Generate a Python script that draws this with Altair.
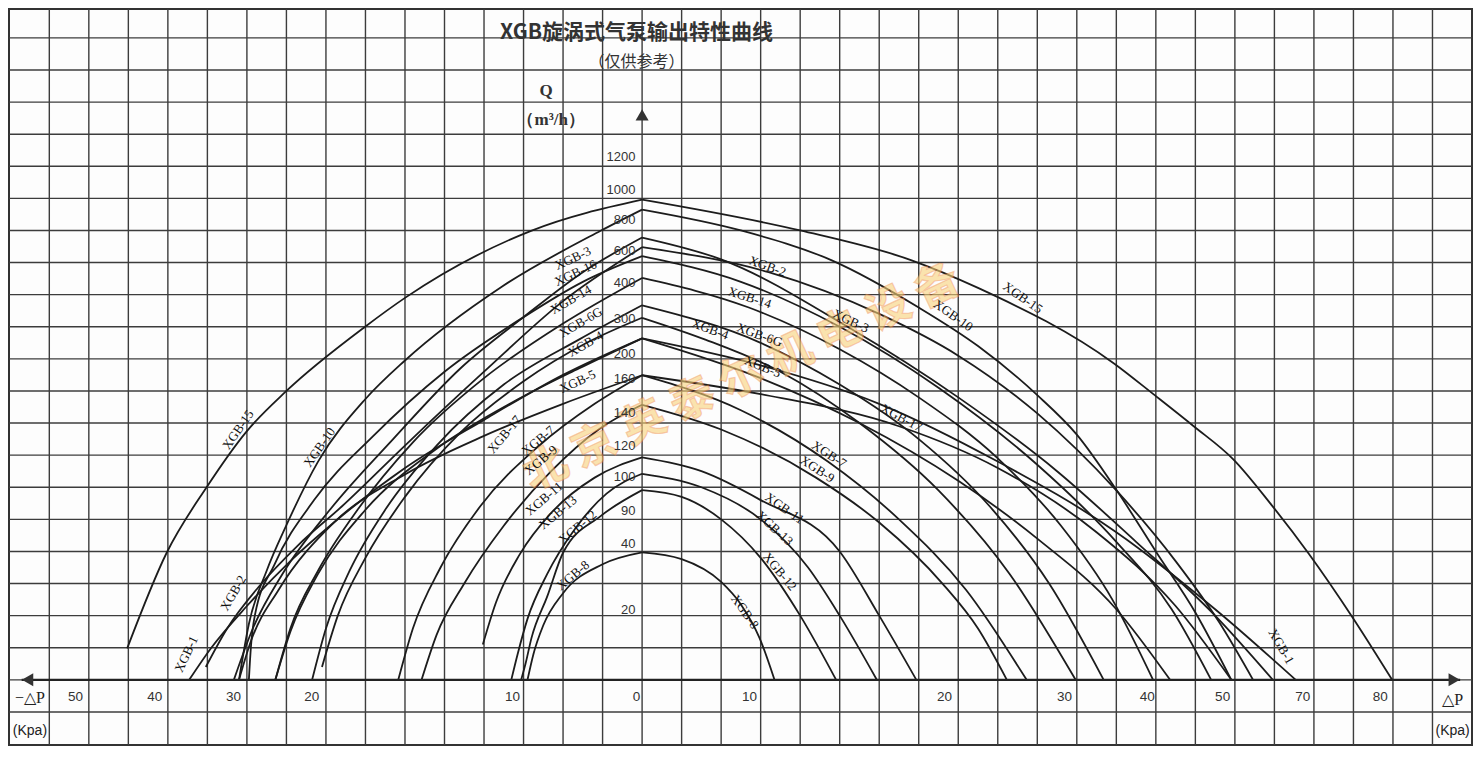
import altair as alt
import pandas as pd

# Coordinates are in grid cells:
# x = columns from the Q axis (left negative), y = rows above the ΔP axis.

XGB_15_L = [(-13.03, 0.98), (-12.03, 3.96), (-11.02, 6.0), (-10.0, 7.75), (-9.0, 9.0), (-7.0, 11.01), (-6.0, 11.9), (-2.81, 13.99), (0, 14.96)]
XGB_15_R = [(0, 14.96), (4, 14.0), (6.82, 13.07), (8.5, 12.21), (11.95, 9.85), (12.97, 8.87), (13.95, 7.91), (14.96, 6.87), (15.92, 5.46), (16.87, 3.93), (17.97, 1.96), (18.98, 0)]
XGB_10_L = [(-10.2, 0), (-9.95, 1.74), (-9.5, 3.4), (-9.0, 4.82), (-8.2, 6.8), (-7.0, 8.75), (-6.0, 9.95), (-3.56, 12.24), (-1.05, 13.99), (0, 14.65)]
XGB_10_R = [(0, 14.65), (2.5, 14.0), (4.8, 13.07), (7.0, 11.6), (8.5, 10.4), (10, 8.87), (11, 7.64), (12, 5.92), (13, 4.0), (14, 2.1), (14.91, 0)]
XGB_3_L = [(-10.33, 0), (-9.85, 1.6), (-9.1, 3.3), (-7.9, 5.3), (-6.3, 7.5), (-4.6, 9.7), (-3, 11.3), (-1.5, 12.7), (0, 13.78)]
XGB_3_R = [(0, 13.78), (2, 13.1), (5.2, 11.0), (8, 8.8), (10.5, 6.5), (12.5, 4.3), (14.5, 2.0), (15.96, 0)]
XGB_2_L = [(-11.04, 0.4), (-10.5, 1.6), (-9.7, 2.9), (-8.7, 4.2), (-7.6, 5.4), (-6, 7.3), (-4, 9.6), (-2, 11.8), (0, 13.48)]
XGB_2_R = [(0, 13.48), (3.2, 12.7), (6, 11.4), (8, 10.1), (10, 8.3), (12, 5.9), (13.5, 3.7), (14.6, 1.8), (15.46, 0)]
XGB_16_L = [(-9.95, 0), (-9.9, 1.0), (-9.8, 2.0), (-9.3, 3.6), (-8.3, 5.6), (-6.8, 7.6), (-5, 9.6), (-3, 11.3), (-1.5, 12.4), (0, 13.2)]
XGB_16_R = [(0, 13.2), (2.5, 12.4), (5, 11.0), (7.5, 9.1), (10, 6.7), (12, 4.3), (13.4, 2.2), (14.4, 0)]
XGB_14_L = [(-9.28, 0), (-8.9, 1.6), (-8.2, 3.4), (-7.2, 5.3), (-5.8, 7.4), (-4, 9.4), (-2, 11.1), (0, 12.52)]
XGB_14_R = [(0, 12.52), (2.7, 11.6), (5, 10.3), (7, 8.8), (9, 6.9), (10.6, 4.8), (11.9, 2.5), (12.93, 0)]
XGB_17_L = [(-10.2, 0), (-9.9, 1.2), (-9.2, 2.8), (-7.8, 4.9), (-6, 6.4), (-4, 7.6), (-2, 8.6), (0, 9.49)]
XGB_17_R = [(0, 9.49), (3, 8.9), (6.5, 7.9), (9, 6.6), (11.5, 4.6), (13.5, 2.3), (14.91, 0)]
XGB_6G_L = [(-8.35, 0), (-8.0, 1.6), (-7.4, 3.4), (-6.5, 5.3), (-5.2, 7.3), (-3.5, 9.2), (-1.6, 10.6), (0, 11.67)]
XGB_6G_R = [(0, 11.67), (3, 10.5), (5, 9.2), (7, 7.5), (8.8, 5.4), (10.3, 3.0), (11.68, 0)]
XGB_4_L = [(-8.1, 0.4), (-7.7, 2.0), (-7.0, 3.8), (-6.0, 5.7), (-4.6, 7.7), (-3, 9.3), (-1.4, 10.5), (0, 11.28)]
XGB_4_R = [(0, 11.28), (1.6, 10.6), (3.5, 9.6), (5.5, 8.0), (7.5, 5.9), (9.3, 3.3), (10.97, 0)]
XGB_5_L = [(-9.28, 0), (-8.9, 1.5), (-8.2, 3.3), (-7.0, 5.3), (-5.2, 7.2), (-3.2, 8.7), (-1.6, 9.7), (0, 10.64)]
XGB_5_R = [(0, 10.64), (3, 9.4), (5.5, 8.0), (8, 6.2), (10, 4.4), (12, 2.2), (13.36, 0)]
XGB_1_L = [(-11.46, 0), (-10.9, 1.0), (-10.0, 2.3), (-8.9, 3.7), (-7.8, 4.9), (-6, 6.6), (-4, 8.1), (-2, 9.5), (0, 10.64)]
XGB_1_R = [(0, 10.64), (3, 9.8), (6, 8.6), (9, 6.8), (12, 4.6), (14.5, 2.2), (16.54, 0)]
XGB_7_L = [(-6.17, 0), (-5.8, 1.6), (-5.1, 3.5), (-4.1, 5.4), (-2.6, 7.3), (-1.2, 8.6), (0, 9.49)]
XGB_7_R = [(0, 9.49), (2.5, 8.4), (4.7, 6.8), (6.5, 5.0), (8.2, 2.8), (9.73, 0)]
XGB_9_L = [(-5.58, 0), (-5.2, 1.4), (-4.5, 3.0), (-3.5, 4.8), (-2.3, 6.5), (-1.1, 7.8), (0, 8.57)]
XGB_9_R = [(0, 8.57), (2, 7.8), (4.4, 6.3), (6, 4.9), (7.6, 3.0), (8.5, 1.6), (9.23, 0)]
XGB_11_L = [(-4.03, 1.1), (-3.7, 2.4), (-3.1, 3.9), (-2.3, 5.2), (-1.2, 6.3), (0, 6.93)]
XGB_11_R = [(0, 6.93), (1.5, 6.5), (3, 5.6), (5, 4.0), (6, 2.0), (6.94, 0)]
XGB_13_L = [(-3.31, 0), (-3.15, 0.8), (-2.9, 1.9), (-2.4, 3.3), (-1.7, 4.7), (-0.9, 5.8), (0, 6.42)]
XGB_13_R = [(0, 6.42), (1.5, 6.0), (3, 5.0), (4.2, 3.5), (5, 2.0), (5.94, 0)]
XGB_12_L = [(-3.06, 0), (-2.95, 0.5), (-2.8, 1.3), (-2.4, 2.6), (-2.0, 3.96), (-1.05, 5.1), (0, 5.91)]
XGB_12_R = [(0, 5.91), (1, 5.7), (2, 5.0), (3, 3.8), (4, 2.0), (4.91, 0)]
XGB_8_L = [(-2.9, 0), (-2.75, 0.8), (-2.5, 1.7), (-2.0, 2.7), (-1, 3.6), (0, 3.97)]
XGB_8_R = [(0, 3.97), (1, 3.76), (2, 3.05), (2.5, 2.35), (2.97, 1.31), (3.35, 0)]

CURVES = [
    ("XGB-15", XGB_15_L, XGB_15_R), ("XGB-10", XGB_10_L, XGB_10_R),
    ("XGB-3", XGB_3_L, XGB_3_R), ("XGB-2", XGB_2_L, XGB_2_R),
    ("XGB-16", XGB_16_L, XGB_16_R), ("XGB-14", XGB_14_L, XGB_14_R),
    ("XGB-17", XGB_17_L, XGB_17_R), ("XGB-6G", XGB_6G_L, XGB_6G_R),
    ("XGB-4", XGB_4_L, XGB_4_R), ("XGB-5", XGB_5_L, XGB_5_R),
    ("XGB-1", XGB_1_L, XGB_1_R), ("XGB-7", XGB_7_L, XGB_7_R),
    ("XGB-9", XGB_9_L, XGB_9_R), ("XGB-11", XGB_11_L, XGB_11_R),
    ("XGB-13", XGB_13_L, XGB_13_R), ("XGB-12", XGB_12_L, XGB_12_R),
    ("XGB-8", XGB_8_L, XGB_8_R),
]

# curve labels on the left branches
LEFT_NAMES = ["XGB-15", "XGB-10", "XGB-2", "XGB-1", "XGB-3", "XGB-16", "XGB-14", "XGB-6G", "XGB-4",
              "XGB-5", "XGB-17", "XGB-7", "XGB-9", "XGB-11", "XGB-13", "XGB-12", "XGB-8"]
LEFT_X = [-10.22, -8.16, -10.34, -11.53, -1.75, -1.68, -1.80, -1.55, -1.43, -1.63, -3.48, -2.63, -2.56, -2.48, -2.13, -1.63, -1.75]
LEFT_Y = [7.79, 7.24, 2.70, 0.80, 13.13, 12.67, 11.84, 11.13, 10.46, 9.29, 7.64, 7.45, 6.84, 5.64, 5.21, 4.75, 3.25]
LEFT_ANGLE = [305, 305, 300, 295, 335, 335, 330, 330, 330, 335, 310, 320, 320, 320, 320, 320, 320]

# curve labels on the right branches
RIGHT_NAMES = ["XGB-2", "XGB-14", "XGB-4", "XGB-6G", "XGB-5", "XGB-3", "XGB-10", "XGB-15", "XGB-17",
               "XGB-7", "XGB-9", "XGB-11", "XGB-13", "XGB-12", "XGB-8", "XGB-1"]
RIGHT_X = [3.17, 2.72, 1.72, 2.97, 3.05, 5.28, 7.87, 9.63, 6.56, 4.73, 4.43, 3.60, 3.35, 3.48, 2.60, 16.17]
RIGHT_Y = [12.88, 11.90, 10.92, 10.74, 9.75, 11.17, 11.35, 11.90, 8.16, 7.02, 6.56, 5.34, 4.72, 3.37, 2.12, 1.04]
RIGHT_ANGLE = [20, 18, 20, 20, 22, 25, 35, 35, 28, 33, 33, 35, 42, 50, 55, 60]

# ΔP tick labels (Kpa) and their columns
XTICK_TEXT = ["50", "40", "30", "20", "10", "0", "10", "20", "30", "40", "50", "70", "80"]
XTICK_POS = [-14.34, -12.33, -10.34, -8.36, -3.28, -0.14, 2.72, 7.65, 10.69, 12.78, 14.69, 16.72, 18.68]

# Q tick labels (m3/h) and their rows
YTICK_TEXT = ["1200", "1000", "800", "600", "400", "300", "200", "160", "140", "120", "100", "90", "40", "20"]
YTICK_POS = [16.29, 15.25, 14.33, 13.37, 12.36, 11.23, 10.15, 9.36, 8.31, 7.30, 6.32, 5.25, 4.23, 2.18]

# graph-paper lines
GRID_COLS = list(range(-15, 21))
GRID_ROWS = list(range(-1, 21))

X_DOMAIN = [-16.02, 21.0]
Y_DOMAIN = [-2.03, 20.9]

rows = []
for name, left, right in CURVES:
    for side, pts in (("L", left), ("R", right)):
        for i, (gx, gy) in enumerate(pts):
            rows.append({"curve": name, "seg": name + side, "i": i, "gx": gx, "gy": gy})
curves_df = pd.DataFrame(rows)

xs = alt.Scale(domain=X_DOMAIN, nice=False, zero=False)
ys = alt.Scale(domain=Y_DOMAIN, nice=False, zero=False)
GRID = "#3c3c3c"
INK = "#1c1c1c"

vgrid = alt.Chart(pd.DataFrame({"gx": GRID_COLS})).mark_rule(color=GRID, strokeWidth=1.4).encode(
    x=alt.X("gx:Q", scale=xs, axis=None))
hgrid = alt.Chart(pd.DataFrame({"gy": GRID_ROWS})).mark_rule(color=GRID, strokeWidth=1.4).encode(
    y=alt.Y("gy:Q", scale=ys, axis=None))

lines = alt.Chart(curves_df).mark_line(interpolate="monotone", color=INK, strokeWidth=1.8).encode(
    x=alt.X("gx:Q", scale=xs, axis=None),
    y=alt.Y("gy:Q", scale=ys, axis=None),
    detail="seg:N",
    order="i:Q",
)

left_df = pd.DataFrame({"t": LEFT_NAMES, "gx": LEFT_X, "gy": LEFT_Y, "a": LEFT_ANGLE})
right_df = pd.DataFrame({"t": RIGHT_NAMES, "gx": RIGHT_X, "gy": RIGHT_Y, "a": RIGHT_ANGLE})
lab_df = pd.concat([left_df, right_df], ignore_index=True)

labels = alt.Chart(lab_df).mark_text(font="Liberation Serif", fontSize=13, color="#111").encode(
    x=alt.X("gx:Q", scale=xs), y=alt.Y("gy:Q", scale=ys), text="t:N", angle=alt.Angle("a:Q", scale=None)
)

xt_df = pd.DataFrame({"t": XTICK_TEXT, "gx": XTICK_POS, "gy": [-0.52] * len(XTICK_TEXT)})
xticks = alt.Chart(xt_df).mark_text(font="Liberation Sans", fontSize=13.5, color="#333").encode(
    x=alt.X("gx:Q", scale=xs), y=alt.Y("gy:Q", scale=ys), text="t:N")

yt_df = pd.DataFrame({"t": YTICK_TEXT, "gy": YTICK_POS, "gx": [-0.17] * len(YTICK_TEXT)})
yticks = alt.Chart(yt_df).mark_text(font="Liberation Sans", fontSize=13, color="#333", align="right").encode(
    x=alt.X("gx:Q", scale=xs), y=alt.Y("gy:Q", scale=ys), text="t:N")

dp_df = pd.DataFrame({"t": ["−△P", "△P"], "gx": [-15.49, 20.51], "gy": [-0.58, -0.64]})
dp_text = alt.Chart(dp_df).mark_text(font="Liberation Serif", fontSize=16, color="#222").encode(
    x=alt.X("gx:Q", scale=xs), y=alt.Y("gy:Q", scale=ys), text="t:N")
kpa_df = pd.DataFrame({"t": ["(Kpa)", "(Kpa)"], "gx": [-15.49, 20.51], "gy": [-1.6, -1.6]})
kpa_text = alt.Chart(kpa_df).mark_text(font="Liberation Sans", fontSize=14, color="#222").encode(
    x=alt.X("gx:Q", scale=xs), y=alt.Y("gy:Q", scale=ys), text="t:N")

t1_df = pd.DataFrame({"t": ["XGB旋涡式气泵输出特性曲线"], "gx": [-0.14], "gy": [20.16]})
title1 = alt.Chart(t1_df).mark_text(font="Noto Sans CJK SC", fontSize=21, fontWeight="bold", color="#333").encode(
    x=alt.X("gx:Q", scale=xs), y=alt.Y("gy:Q", scale=ys), text="t:N")
t2_df = pd.DataFrame({"t": ["（仅供参考）"], "gx": [-0.14], "gy": [19.24]})
title2 = alt.Chart(t2_df).mark_text(font="Noto Sans CJK SC", fontSize=16, color="#333").encode(
    x=alt.X("gx:Q", scale=xs), y=alt.Y("gy:Q", scale=ys), text="t:N")
q_df = pd.DataFrame({"t": ["Q", "（m³/h）"], "gx": [-2.43, -2.30], "gy": [18.34, 17.45]})
qlab = alt.Chart(q_df).mark_text(font="Liberation Serif", fontSize=17, fontWeight="bold", color="#333").encode(
    x=alt.X("gx:Q", scale=xs), y=alt.Y("gy:Q", scale=ys), text="t:N")

wm_df = pd.DataFrame({"t": ["北 京 英 泰 尔 机 电 设 备"], "gx": [2.53], "gy": [9.39]})
watermark = alt.Chart(wm_df).mark_text(font="Noto Sans CJK SC", fontSize=44, fontWeight="bold",
                                       angle=335, color="#f9d27a", opacity=0.6,
                                       stroke="#ef7d3a", strokeWidth=1.2, strokeOpacity=0.65).encode(
    x=alt.X("gx:Q", scale=xs), y=alt.Y("gy:Q", scale=ys), text="t:N")

# ΔP axis line and arrow heads
ax_df = pd.DataFrame({"gx": [-15.7], "gx2": [20.7], "gy": [0.0]})
xaxis = alt.Chart(ax_df).mark_rule(color="#222", strokeWidth=2.4).encode(
    x=alt.X("gx:Q", scale=xs), x2="gx2:Q", y=alt.Y("gy:Q", scale=ys))

arrow_df = pd.DataFrame({
    "gx": [-15.55, 20.55, 0.0],
    "gy": [0.0, 0.0, 17.6],
    "shape": ["triangle-left", "triangle-right", "triangle-up"],
})
arrows = alt.Chart(arrow_df).mark_point(filled=True, size=170, color="#333", opacity=1).encode(
    x=alt.X("gx:Q", scale=xs), y=alt.Y("gy:Q", scale=ys), shape=alt.Shape("shape:N", scale=None))

chart = alt.layer(vgrid, hgrid, lines, watermark, labels, xticks, yticks, dp_text, kpa_text,
                  title1, title2, qlab, xaxis, arrows).properties(
    width=1465, height=738, padding=0,
    autosize=alt.AutoSizeParams(type="fit", contains="padding"),
    background="#fdfdfd",
).configure_view(stroke="#333", strokeWidth=2)

chart.save("out.html", embed_options={"renderer": "svg", "actions": False})
